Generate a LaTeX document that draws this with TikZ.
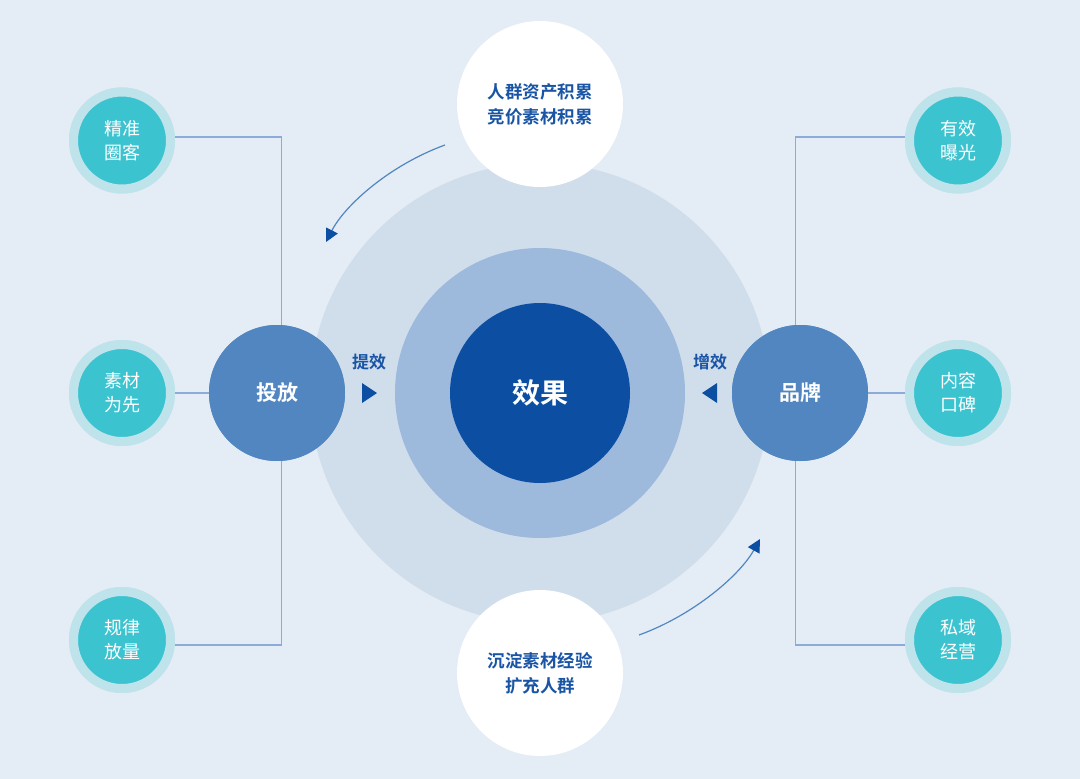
\documentclass[tikz,border=0pt]{standalone}
\usepackage{fontspec}
\setmainfont{Noto Sans CJK SC}
\newfontfamily\cjkb{Noto Sans CJK SC Bold}
\usetikzlibrary{arrows.meta}
\definecolor{bg}{HTML}{E4ECF5}
\definecolor{ring1}{HTML}{D0DEEC}
\definecolor{ring2}{HTML}{9DB9DC}
\definecolor{core}{HTML}{0B4EA2}
\definecolor{mid}{HTML}{5186C0}
\definecolor{teal}{HTML}{3CC3D0}
\definecolor{tealring}{HTML}{BEE3EA}
\definecolor{txtblue}{HTML}{1A55A5}
\definecolor{linec}{HTML}{8CABD9}
\tikzset{
  small/.style={circle, fill=teal, draw=tealring, line width=9pt, minimum size=97pt, inner sep=0pt, text=white, font=\fontsize{18}{24}\selectfont, align=center},
  hub/.style={circle, fill=mid, minimum size=136pt, inner sep=0pt, text=white, font=\cjkb\fontsize{21}{24}\selectfont},
  white/.style={circle, fill=white, minimum size=166pt, inner sep=0pt, text=txtblue, font=\cjkb\fontsize{17.5}{25}\selectfont, align=center},
  conn/.style={draw=linec, line width=1.4pt},
  lbl/.style={text=txtblue, font=\cjkb\fontsize{17}{20}\selectfont},
  tri/.style={fill=core, draw=none},
  carrow/.style={draw=mid, line width=1.2pt, -{Triangle[length=13pt,width=13pt,color=core]}}
}
\begin{document}
\begin{tikzpicture}[x=1pt,y=-1pt]
\fill[bg] (0,0) rectangle (1080,779);
\useasboundingbox (0,0) rectangle (1080,779);
% central rings
\fill[ring1] (540,393) circle (230);
\fill[ring2] (540,393) circle (145);
\node[circle, fill=core, minimum size=180pt, inner sep=0pt, text=white, font=\cjkb\fontsize{28}{32}\selectfont] (core) at (540,393) {效果};
% connector corners
\coordinate (lt) at (281.5,137);
\coordinate (lb) at (281.5,645);
\coordinate (rt) at (795.5,137);
\coordinate (rb) at (795.5,645);
\node[small] (l1) at (122,140.5) {精准\\圈客};
\node[small] (l2) at (122,393) {素材\\为先};
\node[small] (l3) at (122,640) {规律\\放量};
\node[small] (r1) at (958,140.5) {有效\\曝光};
\node[small] (r2) at (958,393) {内容\\口碑};
\node[small] (r3) at (958,640) {私域\\经营};
\node[hub] (tf) at (277,393) {投放};
\node[hub] (pp) at (800,393) {品牌};
\draw[conn] (l1.east |- lt) -- (lt) -- (lt |- tf.north);
\draw[conn] (l3.east |- lb) -- (lb) -- (lb |- tf.south);
\draw[conn] (l2.east) -- (tf.west);
\draw[conn] (r1.west |- rt) -- (rt) -- (rt |- pp.north);
\draw[conn] (r3.west |- rb) -- (rb) -- (rb |- pp.south);
\draw[conn] (r2.west) -- (pp.east);
% redraw circles over line ends
\node[small] at (l1) {精准\\圈客};
\node[small] at (l2) {素材\\为先};
\node[small] at (l3) {规律\\放量};
\node[small] at (r1) {有效\\曝光};
\node[small] at (r2) {内容\\口碑};
\node[small] at (r3) {私域\\经营};
\node[hub] at (tf) {投放};
\node[hub] at (pp) {品牌};
% white circles
\node[white] (top) at (540,104) {人群资产积累\\竞价素材积累};
\node[white] (bot) at (540,673) {沉淀素材经验\\扩充人群};
% labels and triangles
\node[lbl] (tx) at (369,362) {提效};
\node[lbl] (zx) at (710,362) {增效};
\fill[tri] (362,383) -- (377,393) -- (362,403) -- cycle;
\fill[tri] (717,383) -- (702,393) -- (717,403) -- cycle;
% curved arrows
\coordinate (a1) at (445,145);
\coordinate (a2) at (326,242);
\coordinate (b1) at (639,635);
\coordinate (b2) at (760,539);
\draw[carrow] (a1) .. controls (390,165) and (345,205) .. (a2);
\draw[carrow] (b1) .. controls (694,615) and (740,575) .. (b2);
\end{tikzpicture}
\end{document}
